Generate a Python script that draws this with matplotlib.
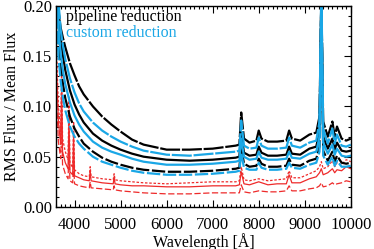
import matplotlib
matplotlib.use("Agg")
import matplotlib.pyplot as plt
from matplotlib.ticker import MultipleLocator, FormatStrFormatter

# wavelength grid shared by the pipeline / custom curves
wave = [3600, 3650, 3700, 3750, 3800, 3900, 4000, 4100, 4200, 4400,
        4600, 4800, 5000, 5250, 5500, 6000, 6500, 7000, 7500, 7580,
        7620, 7680, 7800, 7950, 8000, 8060, 8200, 8400, 8600, 8660,
        8720, 8900, 9100, 9250, 9320, 9360, 9400, 9500, 9600, 9650,
        9700, 9800, 9900, 10000]

# pipeline reduction (black): upper, median, lower
pipe_hi = [0.300, 0.195, 0.178, 0.168, 0.159, 0.143, 0.131, 0.120, 0.112, 0.100,
           0.090, 0.082, 0.075, 0.067, 0.062, 0.057, 0.057, 0.058, 0.061, 0.062,
           0.094, 0.068, 0.064, 0.066, 0.076, 0.068, 0.065, 0.065, 0.066, 0.076,
           0.068, 0.066, 0.072, 0.074, 0.090, 0.210, 0.085, 0.070, 0.085, 0.070,
           0.080, 0.068, 0.066, 0.068]
pipe_mid = [0.280, 0.200, 0.168, 0.150, 0.136, 0.116, 0.102, 0.092, 0.084, 0.073,
            0.066, 0.061, 0.057, 0.053, 0.050, 0.047, 0.046, 0.047, 0.049, 0.050,
            0.074, 0.054, 0.051, 0.052, 0.060, 0.054, 0.051, 0.051, 0.052, 0.060,
            0.053, 0.052, 0.058, 0.060, 0.075, 0.210, 0.070, 0.058, 0.068, 0.057,
            0.064, 0.056, 0.055, 0.056]
pipe_lo = [0.250, 0.170, 0.140, 0.122, 0.108, 0.090, 0.078, 0.070, 0.063, 0.055,
           0.049, 0.045, 0.042, 0.039, 0.037, 0.035, 0.035, 0.036, 0.038, 0.039,
           0.060, 0.043, 0.040, 0.041, 0.048, 0.043, 0.040, 0.040, 0.041, 0.048,
           0.042, 0.041, 0.046, 0.048, 0.060, 0.210, 0.056, 0.046, 0.055, 0.045,
           0.051, 0.044, 0.043, 0.044]

# custom reduction (blue): upper, median, lower
cust_hi = [0.280, 0.205, 0.176, 0.160, 0.147, 0.128, 0.114, 0.103, 0.095, 0.084,
           0.076, 0.070, 0.065, 0.060, 0.056, 0.052, 0.051, 0.053, 0.055, 0.056,
           0.086, 0.061, 0.058, 0.059, 0.069, 0.061, 0.058, 0.058, 0.059, 0.069,
           0.061, 0.059, 0.064, 0.066, 0.085, 0.220, 0.078, 0.063, 0.078, 0.063,
           0.072, 0.061, 0.060, 0.062]
cust_mid = [0.260, 0.180, 0.152, 0.135, 0.122, 0.104, 0.091, 0.082, 0.075, 0.065,
            0.059, 0.055, 0.052, 0.048, 0.045, 0.042, 0.042, 0.043, 0.045, 0.046,
            0.068, 0.050, 0.047, 0.048, 0.055, 0.049, 0.047, 0.047, 0.048, 0.055,
            0.049, 0.048, 0.053, 0.055, 0.070, 0.210, 0.064, 0.053, 0.062, 0.052,
            0.058, 0.051, 0.050, 0.051]
cust_lo = [0.230, 0.150, 0.125, 0.108, 0.096, 0.080, 0.070, 0.063, 0.058, 0.050,
           0.045, 0.042, 0.039, 0.036, 0.034, 0.032, 0.032, 0.033, 0.035, 0.036,
           0.054, 0.039, 0.037, 0.037, 0.044, 0.039, 0.037, 0.037, 0.038, 0.044,
           0.039, 0.038, 0.042, 0.044, 0.055, 0.200, 0.051, 0.042, 0.050, 0.041,
           0.046, 0.040, 0.040, 0.041]

# red curves have their own grid (emission spikes in the blue)
wave_red = [3600, 3650, 3700, 3720, 3740, 3800, 3860, 3880, 3900, 3960,
            3980, 4000, 4100, 4200, 4320, 4340, 4360, 4600, 4840, 4860,
            4880, 5000, 5250, 5500, 6000, 6500, 7000, 7500, 7580, 7620,
            7680, 7800, 8000, 8200, 8400, 8600, 8660, 8720, 8900, 9100,
            9250, 9320, 9360, 9400, 9500, 9600, 9650, 9700, 9800, 9900,
            10000]
red_hi = [0.170, 0.100, 0.075, 0.140, 0.068, 0.055, 0.047, 0.110, 0.044, 0.039,
          0.085, 0.037, 0.033, 0.031, 0.030, 0.040, 0.030, 0.028, 0.027, 0.033,
          0.027, 0.026, 0.025, 0.024, 0.023, 0.024, 0.025, 0.025, 0.026, 0.040,
          0.027, 0.026, 0.028, 0.026, 0.027, 0.028, 0.036, 0.029, 0.029, 0.033,
          0.036, 0.040, 0.045, 0.038, 0.040, 0.046, 0.040, 0.044, 0.042, 0.047,
          0.045]
red_mid = [0.150, 0.085, 0.062, 0.120, 0.055, 0.044, 0.038, 0.090, 0.035, 0.032,
           0.070, 0.031, 0.029, 0.027, 0.026, 0.036, 0.026, 0.024, 0.023, 0.030,
           0.023, 0.022, 0.021, 0.021, 0.020, 0.020, 0.021, 0.021, 0.022, 0.035,
           0.023, 0.022, 0.025, 0.022, 0.023, 0.023, 0.032, 0.024, 0.024, 0.028,
           0.030, 0.034, 0.038, 0.032, 0.034, 0.038, 0.034, 0.037, 0.036, 0.040,
           0.038]
red_lo = [0.120, 0.065, 0.048, 0.090, 0.042, 0.033, 0.028, 0.060, 0.026, 0.024,
          0.045, 0.023, 0.021, 0.020, 0.019, 0.025, 0.019, 0.018, 0.017, 0.021,
          0.017, 0.016, 0.015, 0.014, 0.013, 0.013, 0.014, 0.014, 0.014, 0.022,
          0.015, 0.014, 0.016, 0.015, 0.015, 0.016, 0.021, 0.016, 0.016, 0.018,
          0.019, 0.021, 0.024, 0.020, 0.021, 0.024, 0.022, 0.023, 0.024, 0.026,
          0.025]

BLUE = "#1aa7e6"
RED = "#ee2a2a"
RED_DOT = (0, (2.0, 1.4))
RED_DASH = (0, (5.0, 2.0))
HI_STYLE = (0, (9.0, 0.8))
LO_STYLE = (0, (6.0, 1.2))


def main():
    plt.rcParams["font.family"] = ["Liberation Serif", "DejaVu Serif"]

    fig = plt.figure(figsize=(3.74, 2.49), dpi=100)
    ax = fig.add_axes([0.150, 0.169, 0.788, 0.807])

    # red first, then custom and pipeline on top
    ax.plot(wave_red, red_hi, color=RED, lw=0.9, ls=RED_DOT)
    ax.plot(wave_red, red_mid, color=RED, lw=0.9, ls="-")
    ax.plot(wave_red, red_lo, color=RED, lw=0.9, ls=RED_DASH)

    for w_hi, w_mid, w_lo, col in ((pipe_hi, pipe_mid, pipe_lo, "black"),
                                    (cust_hi, cust_mid, cust_lo, BLUE)):
        ax.plot(wave, w_hi, color=col, lw=1.6, ls=HI_STYLE)
        ax.plot(wave, w_mid, color=col, lw=1.6, ls="-")
        ax.plot(wave, w_lo, color=col, lw=1.6, ls=LO_STYLE)

    ax.set_xlim(3600, 10000)
    ax.set_ylim(0.0, 0.20)

    ax.xaxis.set_major_locator(MultipleLocator(1000))
    ax.xaxis.set_minor_locator(MultipleLocator(100))
    ax.yaxis.set_major_locator(MultipleLocator(0.05))
    ax.yaxis.set_minor_locator(MultipleLocator(0.01))
    ax.yaxis.set_major_formatter(FormatStrFormatter("%.2f"))

    ax.tick_params(which="both", direction="in", top=True, right=True,
                   labelsize=12, width=0.8)
    ax.tick_params(which="major", length=5)
    ax.tick_params(which="minor", length=2.5)
    ax.tick_params(axis="x", which="major", pad=7)
    ax.tick_params(axis="y", which="major", pad=3)
    for sp in ax.spines.values():
        sp.set_linewidth(1.0)

    ax.text(0.034, 0.945, "pipeline reduction", transform=ax.transAxes,
            color="black", fontsize=11.5, va="center")
    ax.text(0.034, 0.868, "custom reduction", transform=ax.transAxes,
            color=BLUE, fontsize=11.5, va="center")

    ax.set_xlabel("Wavelength [Å]", fontsize=11.5, labelpad=0)
    ax.set_ylabel("RMS Flux / Mean Flux", fontsize=11.5, labelpad=2)

    fig.savefig("out.png", dpi=100)


if __name__ == "__main__":
    main()
